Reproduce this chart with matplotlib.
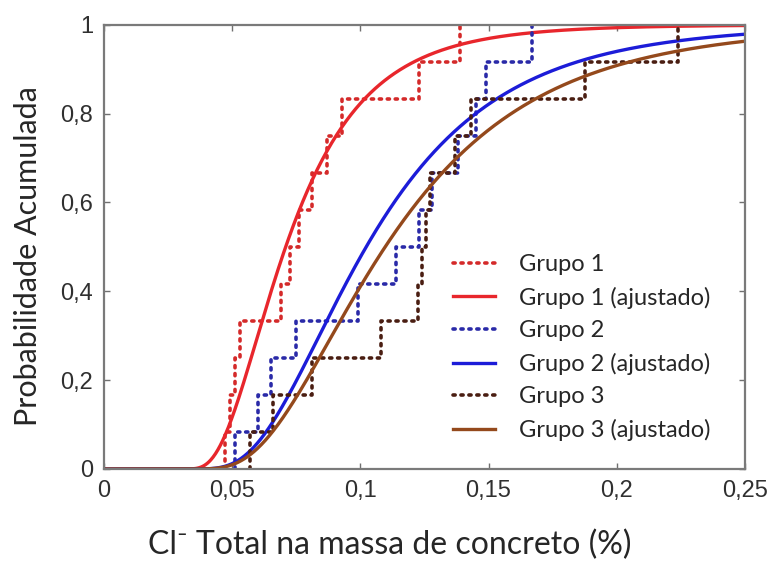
import math
import numpy as np
import matplotlib
matplotlib.use("Agg")
import matplotlib.pyplot as plt

# Empirical samples (Cl- total, % of concrete mass) for each group
grupo1 = [0.047, 0.049, 0.051, 0.053, 0.069, 0.0725, 0.076, 0.081, 0.087, 0.093, 0.123, 0.139]
grupo2 = [0.051, 0.060, 0.065, 0.075, 0.099, 0.114, 0.123, 0.128, 0.138, 0.145, 0.149, 0.167]
grupo3 = [0.057, 0.066, 0.081, 0.108, 0.1225, 0.124, 0.1256, 0.127, 0.137, 0.143, 0.1876, 0.224]

# Fitted three-parameter lognormal (threshold, mu, sigma)
ajuste1 = (0.028, -3.15, 0.56)
ajuste2 = (0.028, -2.60, 0.54)
ajuste3 = (0.028, -2.505, 0.56)

labels = ["Grupo 1", "Grupo 1 (ajustado)", "Grupo 2", "Grupo 2 (ajustado)",
          "Grupo 3", "Grupo 3 (ajustado)"]
xticks = [0, 0.05, 0.1, 0.15, 0.2, 0.25]
xtick_labels = ["0", "0,05", "0,1", "0,15", "0,2", "0,25"]
yticks = [0, 0.2, 0.4, 0.6, 0.8, 1.0]
ytick_labels = ["0", "0,2", "0,4", "0,6", "0,8", "1"]

fit_colors = ["#e8262c", "#1c1cd8", "#94491c"]
step_colors = ["#d42a2a", "#2a2aa8", "#4a1e12"]

_erf = np.vectorize(math.erf)


def lognorm3_cdf(x, shift, mu, sigma):
    x = np.asarray(x, dtype=float)
    d = np.maximum(x - shift, 1e-12)
    z = (np.log(d) - mu) / (sigma * math.sqrt(2))
    return np.where(x > shift, 0.5 * (1 + _erf(z)), 0.0)


def ecdf_xy(vals):
    v = np.sort(np.asarray(vals, dtype=float))
    n = len(v)
    xs = np.r_[v[0], v]
    ys = np.r_[0.0, np.arange(1, n + 1) / n]
    return xs, ys


fig = plt.figure(figsize=(7.71, 5.63), dpi=100)
ax = fig.add_axes([0.135, 0.167, 0.831, 0.789])

xgrid = np.linspace(0, 0.25, 800)
handles = []
for grp, fit, sc, fc in zip([grupo1, grupo2, grupo3], [ajuste1, ajuste2, ajuste3],
                            step_colors, fit_colors):
    xs, ys = ecdf_xy(grp)
    h1, = ax.step(xs, ys, where="post", color=sc, lw=2.6, linestyle=(0, (0.6, 1.6)),
                  dash_capstyle="round")
    h2, = ax.plot(xgrid, lognorm3_cdf(xgrid, *fit), color=fc, lw=2.4)
    handles += [h1, h2]

ax.set_xlim(0, 0.25)
ax.set_ylim(0, 1)
ax.set_xticks(xticks)
ax.set_xticklabels(xtick_labels)
ax.set_yticks(yticks)
ax.set_yticklabels(ytick_labels)
ax.tick_params(direction="in", length=4, width=1, colors="#707070",
               top=True, right=True, labelcolor="#303030", labelsize=17, pad=8)
for lab in ax.get_xticklabels() + ax.get_yticklabels():
    lab.set_fontfamily("Liberation Sans")
for sp in ax.spines.values():
    sp.set_color("#7a7a7a")
    sp.set_linewidth(1.6)

text_font = ["Lato", "DejaVu Sans"]
fig.text(390 / 771, 1 - 545 / 563, "Cl\u207b Total na massa de concreto (%)",
         fontsize=23, family=text_font, color="#262626", ha="center", va="center")
fig.text(28 / 771, 1 - 256 / 563, "Probabilidade Acumulada", rotation=90,
         fontsize=22, family=text_font, color="#262626", ha="center", va="center")

leg = ax.legend(handles, labels, loc="upper left", bbox_to_anchor=(0.544, 0.484),
                frameon=False, prop={"family": text_font, "size": 17},
                handlelength=1.8, handletextpad=1.0, labelspacing=0.49,
                borderpad=0, borderaxespad=0, labelcolor="#262626")

fig.savefig("out.png", dpi=100)
